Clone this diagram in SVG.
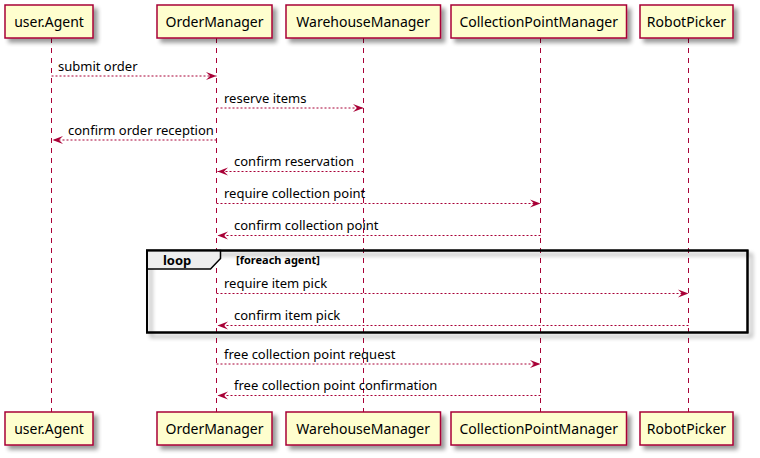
<svg xmlns="http://www.w3.org/2000/svg" width="760" height="458" viewBox="0 0 760 458">
<defs>
<filter id="sh" x="-10%" y="-20%" width="130%" height="160%">
<feGaussianBlur in="SourceAlpha" stdDeviation="2"/>
<feOffset dx="4" dy="4" result="b"/>
<feComponentTransfer><feFuncA type="linear" slope="0.4"/></feComponentTransfer>
<feMerge><feMergeNode/><feMergeNode in="SourceGraphic"/></feMerge>
</filter>
<marker id="ar" viewBox="0 0 11 10" refX="10.5" refY="5" markerWidth="11" markerHeight="10" markerUnits="userSpaceOnUse" orient="auto">
<polygon points="0,1 10.5,5 0,9 4,5" fill="#A80036"/>
</marker>
</defs>
<style>
.box{fill:#FEFECE;stroke:#A80036;stroke-width:1.5}
.pt{font-family:"Noto Sans","Open Sans",sans-serif;font-size:14px;fill:#000}
.life{stroke:#A80036;stroke-width:1;stroke-dasharray:5,5;fill:none}
.msg{stroke:#A80036;stroke-width:1;stroke-dasharray:2,2;fill:none;marker-end:url(#ar)}
.ml{font-family:"Noto Sans","Open Sans",sans-serif;font-size:13px;fill:#000}
.frame{fill:none;stroke:#000;stroke-width:2}
.tab{fill:#EEEEEE;stroke:#000;stroke-width:1.5}
</style>
<rect width="760" height="458" fill="#FFFFFF"/>
<g id="lifelines">
<line class="life" x1="51.5" y1="38" x2="51.5" y2="412"/>
<line class="life" x1="216.5" y1="38" x2="216.5" y2="412"/>
<line class="life" x1="363.5" y1="38" x2="363.5" y2="412"/>
<line class="life" x1="540.5" y1="38" x2="540.5" y2="412"/>
<line class="life" x1="688.5" y1="38" x2="688.5" y2="412"/>
</g>
<g id="loop">
<rect x="147" y="250.5" width="600.5" height="82" fill="none" stroke="#000" stroke-width="2" filter="url(#sh)"/>
<path class="tab" d="M147,250.5 H220.5 V258.5 L210.5,269 H147 Z"/>
<rect class="frame" x="147" y="250.5" width="600.5" height="82"/>
<text x="163" y="265" font-family="Noto Sans, Open Sans, sans-serif" font-size="13" font-weight="bold">loop</text>
<text x="236" y="264" font-family="Noto Sans, Open Sans, sans-serif" font-size="11" font-weight="bold">[foreach agent]</text>
</g>
<g id="connectors">
<line class="msg" x1="51.5" y1="76" x2="216.5" y2="76"/>
<text class="ml" x="58" y="71">submit order</text>
<line class="msg" x1="216.5" y1="108" x2="363.5" y2="108"/>
<text class="ml" x="224" y="103">reserve items</text>
<line class="msg" x1="216.5" y1="140" x2="52.5" y2="140"/>
<text class="ml" x="68" y="135">confirm order reception</text>
<line class="msg" x1="363.5" y1="171.5" x2="217.5" y2="171.5"/>
<text class="ml" x="234" y="166">confirm reservation</text>
<line class="msg" x1="216.5" y1="203.5" x2="540.5" y2="203.5"/>
<text class="ml" x="224" y="198">require collection point</text>
<line class="msg" x1="540.5" y1="235.5" x2="217.5" y2="235.5"/>
<text class="ml" x="234" y="230">confirm collection point</text>
<line class="msg" x1="216.5" y1="293.5" x2="688.5" y2="293.5"/>
<text class="ml" x="224" y="288">require item pick</text>
<line class="msg" x1="688.5" y1="325.5" x2="217.5" y2="325.5"/>
<text class="ml" x="234" y="320">confirm item pick</text>
<line class="msg" x1="216.5" y1="364" x2="540.5" y2="364"/>
<text class="ml" x="224" y="358.5">free collection point request</text>
<line class="msg" x1="540.5" y1="395.5" x2="217.5" y2="395.5"/>
<text class="ml" x="234" y="390">free collection point confirmation</text>
</g>
<g id="p-agent">
<rect class="box" x="5" y="5" width="88" height="33" filter="url(#sh)"/>
<text class="pt" x="49" y="27" text-anchor="middle">user.Agent</text>
<rect class="box" x="5" y="412" width="88" height="33" filter="url(#sh)"/>
<text class="pt" x="49" y="434" text-anchor="middle">user.Agent</text>
</g>
<g id="p-order">
<rect class="box" x="157" y="5" width="115" height="33" filter="url(#sh)"/>
<text class="pt" x="214.5" y="27" text-anchor="middle">OrderManager</text>
<rect class="box" x="157" y="412" width="115" height="33" filter="url(#sh)"/>
<text class="pt" x="214.5" y="434" text-anchor="middle">OrderManager</text>
</g>
<g id="p-warehouse">
<rect class="box" x="286" y="5" width="154.5" height="33" filter="url(#sh)"/>
<text class="pt" x="363.2" y="27" text-anchor="middle">WarehouseManager</text>
<rect class="box" x="286" y="412" width="154.5" height="33" filter="url(#sh)"/>
<text class="pt" x="363.2" y="434" text-anchor="middle">WarehouseManager</text>
</g>
<g id="p-collection">
<rect class="box" x="451" y="5" width="175.5" height="33" filter="url(#sh)"/>
<text class="pt" x="538.7" y="27" text-anchor="middle">CollectionPointManager</text>
<rect class="box" x="451" y="412" width="175.5" height="33" filter="url(#sh)"/>
<text class="pt" x="538.7" y="434" text-anchor="middle">CollectionPointManager</text>
</g>
<g id="p-robot">
<rect class="box" x="640" y="5" width="93" height="33" filter="url(#sh)"/>
<text class="pt" x="686.5" y="27" text-anchor="middle">RobotPicker</text>
<rect class="box" x="640" y="412" width="93" height="33" filter="url(#sh)"/>
<text class="pt" x="686.5" y="434" text-anchor="middle">RobotPicker</text>
</g>
</svg>
